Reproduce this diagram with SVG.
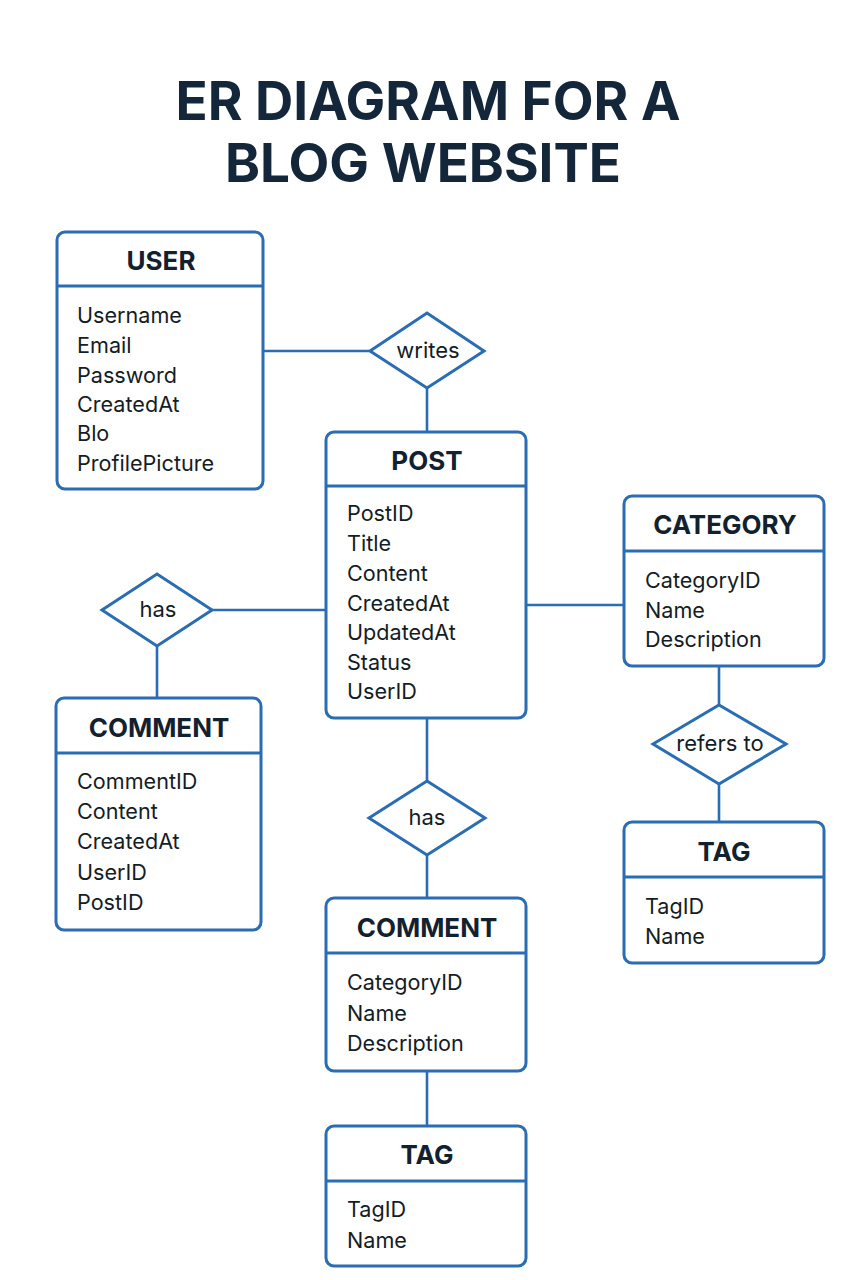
<svg xmlns="http://www.w3.org/2000/svg" width="853" height="1280" viewBox="0 0 853 1280">
<style>
.box{fill:#fff;stroke:#2a6db3;stroke-width:3}
.div{stroke:#2a6db3;stroke-width:3}
.conn{stroke:#2a6db3;stroke-width:2.6;fill:none}
.dia{fill:#fff;stroke:#2a6db3;stroke-width:3}
.title{font-family:Inter,"Liberation Sans",sans-serif;font-weight:700;font-size:53px;fill:#14263a;text-anchor:middle}
.hdr{font-family:Inter,"Liberation Sans",sans-serif;font-weight:700;font-size:26px;fill:#13212f;text-anchor:middle}
.att{font-family:Inter,"Liberation Sans",sans-serif;font-size:21.6px;fill:#141c24}
.rel{font-family:Inter,"Liberation Sans",sans-serif;font-size:22px;fill:#141c24;text-anchor:middle}
</style>
<rect width="853" height="1280" fill="#fff"/>
<text class="title" x="428" y="120">ER DIAGRAM FOR A</text>
<text class="title" x="423" y="182">BLOG WEBSITE</text>
<g id="connectors">
<line class="conn" x1="263" y1="351" x2="370" y2="351"/>
<line class="conn" x1="427" y1="388" x2="427" y2="432"/>
<line class="conn" x1="526" y1="605" x2="624" y2="605"/>
<line class="conn" x1="212" y1="610" x2="326" y2="610"/>
<line class="conn" x1="157" y1="646" x2="157" y2="698"/>
<line class="conn" x1="427" y1="718" x2="427" y2="781"/>
<line class="conn" x1="427" y1="855" x2="427" y2="898"/>
<line class="conn" x1="427" y1="1071" x2="427" y2="1126"/>
<line class="conn" x1="719" y1="666" x2="719" y2="705"/>
<line class="conn" x1="719" y1="784" x2="719" y2="822"/>
</g>
<g id="user">
<rect class="box" x="57" y="232" width="206" height="257" rx="8"/>
<line class="div" x1="57" y1="286" x2="263" y2="286"/>
<text class="hdr" x="161" y="270">USER</text>
<text class="att" x="77" y="323">Username</text>
<text class="att" x="77" y="353">Email</text>
<text class="att" x="77" y="383">Password</text>
<text class="att" x="77" y="412">CreatedAt</text>
<text class="att" x="77" y="441">Blo</text>
<text class="att" x="77" y="471">ProfilePicture</text>
</g>
<g id="writes">
<polygon class="dia" points="370,351 427,313 484,351 427,388"/>
<text class="rel" x="428" y="358">writes</text>
</g>
<g id="post">
<rect class="box" x="326" y="432" width="200" height="286" rx="8"/>
<line class="div" x1="326" y1="486" x2="526" y2="486"/>
<text class="hdr" x="427" y="470">POST</text>
<text class="att" x="347" y="521">PostID</text>
<text class="att" x="347" y="551">Title</text>
<text class="att" x="347" y="581">Content</text>
<text class="att" x="347" y="611">CreatedAt</text>
<text class="att" x="347" y="640">UpdatedAt</text>
<text class="att" x="347" y="670">Status</text>
<text class="att" x="347" y="699">UserID</text>
</g>
<g id="category">
<rect class="box" x="624" y="496" width="200" height="170" rx="8"/>
<line class="div" x1="624" y1="551" x2="824" y2="551"/>
<text class="hdr" x="725" y="534">CATEGORY</text>
<text class="att" x="645" y="588">CategoryID</text>
<text class="att" x="645" y="618">Name</text>
<text class="att" x="645" y="647">Description</text>
</g>
<g id="has-left">
<polygon class="dia" points="102,610 157,574 212,610 157,646"/>
<text class="rel" x="158" y="617">has</text>
</g>
<g id="comment-left">
<rect class="box" x="56" y="698" width="205" height="232" rx="8"/>
<line class="div" x1="56" y1="753" x2="261" y2="753"/>
<text class="hdr" x="159" y="737">COMMENT</text>
<text class="att" x="77" y="789">CommentID</text>
<text class="att" x="77" y="819">Content</text>
<text class="att" x="77" y="849">CreatedAt</text>
<text class="att" x="77" y="880">UserID</text>
<text class="att" x="77" y="910">PostID</text>
</g>
<g id="has-mid">
<polygon class="dia" points="369,818 427,781 485,818 427,855"/>
<text class="rel" x="427" y="825">has</text>
</g>
<g id="comment-mid">
<rect class="box" x="326" y="898" width="200" height="173" rx="8"/>
<line class="div" x1="326" y1="953" x2="526" y2="953"/>
<text class="hdr" x="427" y="937">COMMENT</text>
<text class="att" x="347" y="990">CategoryID</text>
<text class="att" x="347" y="1021">Name</text>
<text class="att" x="347" y="1051">Description</text>
</g>
<g id="tag-bottom">
<rect class="box" x="326" y="1126" width="200" height="140" rx="8"/>
<line class="div" x1="326" y1="1181" x2="526" y2="1181"/>
<text class="hdr" x="427" y="1164">TAG</text>
<text class="att" x="347" y="1217">TagID</text>
<text class="att" x="347" y="1248">Name</text>
</g>
<g id="refers-to">
<polygon class="dia" points="653,744 719,705 786,744 719,784"/>
<text class="rel" x="720" y="751">refers to</text>
</g>
<g id="tag-right">
<rect class="box" x="624" y="822" width="200" height="141" rx="8"/>
<line class="div" x1="624" y1="877" x2="824" y2="877"/>
<text class="hdr" x="724" y="861">TAG</text>
<text class="att" x="645" y="914">TagID</text>
<text class="att" x="645" y="944">Name</text>
</g>
</svg>
